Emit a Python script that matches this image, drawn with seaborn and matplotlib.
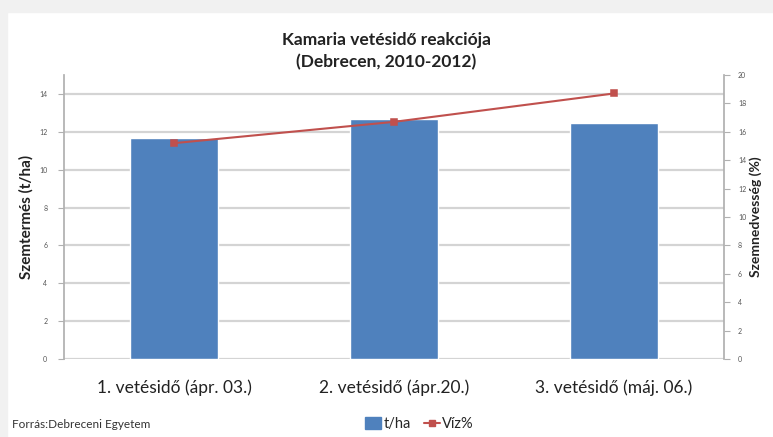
import matplotlib
matplotlib.use("Agg")
import matplotlib.pyplot as plt
import seaborn as sns
from matplotlib.patches import Rectangle
from matplotlib.lines import Line2D
from matplotlib.patches import Patch

categories = ["1. vetésidő (ápr. 03.)", "2. vetésidő (ápr.20.)", "3. vetésidő (máj. 06.)"]
yields = [11.67, 12.68, 12.47]        # t/ha
moisture = [15.2, 16.7, 18.7]         # Víz%
left_ticks = [0, 2, 4, 6, 8, 10, 12, 14]
right_ticks = [0, 2, 4, 6, 8, 10, 12, 14, 16, 18, 20]

blue = "#4F81BD"
red = "#C0504D"
grid = "#d4d4d4"
font = ["Lato", "DejaVu Sans"]

sns.set_theme(style="white")
plt.rcParams["font.family"] = font

fig = plt.figure(figsize=(7.73, 4.37), dpi=100)
fig.patch.set_facecolor("white")
# light frame shadow at top / left
fig.add_artist(Rectangle((0, 1 - 12 / 437), 1, 12 / 437, transform=fig.transFigure,
                         color="#f1f1f1", zorder=0))
fig.add_artist(Rectangle((0, 0), 7 / 773, 1, transform=fig.transFigure,
                         color="#f1f1f1", zorder=0))

ax = fig.add_axes([64 / 773, 1 - 359 / 437, (724 - 64) / 773, (359 - 75) / 437])
sns.barplot(x=categories, y=yields, color=blue, width=0.4, saturation=1, ax=ax, zorder=3)
ax.set_ylim(0, 15)
ax.set_xlim(-0.5, 2.5)
ax.set_yticks(left_ticks)
for t in left_ticks:
    ax.axhline(t, color=grid, lw=1.6, zorder=1)
ax.tick_params(axis="y", labelsize=5, colors="#b0b0b0", length=4, width=0.8, direction="out",
               left=True, pad=8, labelcolor="#555555")
ax.tick_params(axis="x", labelsize=12.5, length=0, pad=15, labelcolor="#222222")
for s in ["top", "right", "bottom"]:
    ax.spines[s].set_visible(False)
ax.spines["left"].set_color("#b0b0b0")
ax.set_ylabel("Szemtermés (t/ha)", fontsize=11, fontweight="bold", labelpad=4, color="#222222")
ax.set_xlabel("")

ax2 = ax.twinx()
sns.pointplot(x=categories, y=moisture, color=red, markers="s", markersize=4,
              linewidth=1.5, ax=ax2)
ax2.set_ylim(0, 20)
ax2.set_xlim(-0.5, 2.5)
ax2.set_yticks(right_ticks)
ax2.tick_params(axis="y", labelsize=5, length=4, width=0.8, direction="out", right=True,
                colors="#b0b0b0", labelcolor="#555555", pad=6)
for s in ["top", "left", "bottom"]:
    ax2.spines[s].set_visible(False)
ax2.spines["right"].set_color("#b0b0b0")
ax2.set_ylabel("Szemnedvesség (%)", fontsize=10, fontweight="bold", rotation=90,
               labelpad=2, color="#222222")

fig.text(0.5, 1 - 51 / 437, "Kamaria vetésidő reakciója\n(Debrecen, 2010-2012)",
         ha="center", va="center", fontsize=12.5, fontweight="bold", color="#222222",
         linespacing=1.5)
fig.text(12 / 773, 1 - 425 / 437, "Forrás:Debreceni Egyetem", fontsize=8.5,
         va="center", color="#333333")

handles = [Patch(facecolor=blue, edgecolor=blue),
           Line2D([0], [0], color=red, marker="s", markersize=4, lw=1.5)]
fig.legend(handles, ["t/ha", "Víz%"], loc="center", bbox_to_anchor=(0.543, 1 - 424 / 437),
           ncol=2, frameon=False, fontsize=10.5, handlelength=1.1, handleheight=0.85,
           columnspacing=0.9, handletextpad=0.15)

fig.savefig("out.png", dpi=100)
